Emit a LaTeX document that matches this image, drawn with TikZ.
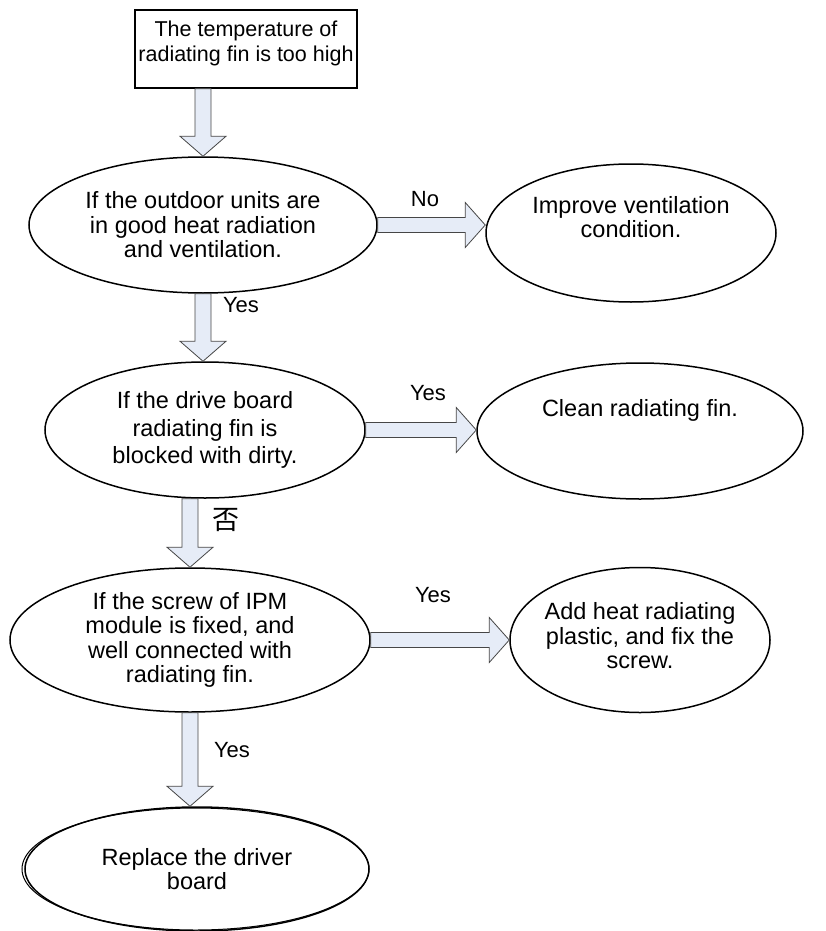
\documentclass[tikz,border=0pt]{standalone}
\usepackage{fontspec}
\setmainfont{Liberation Sans}
\newfontfamily\cjk{Noto Sans CJK SC}
\usetikzlibrary{calc,shapes.geometric}
\definecolor{ArrowFill}{RGB}{230,236,247}
\definecolor{ArrowLine}{RGB}{70,70,70}

% block arrow pointing down, from #1 to #2
\newcommand{\downblock}[2]{%
  \draw[blockarrow] let \p1=(#1), \p2=(#2) in
    (\x1-8pt,\y1) -- (\x1-8pt,\y2+20pt) -- (\x1-23pt,\y2+20pt) -- (\x1,\y2)
    -- (\x1+23pt,\y2+20pt) -- (\x1+8pt,\y2+20pt) -- (\x1+8pt,\y1) -- cycle;}
% block arrow pointing right, from #1 to #2
\newcommand{\rightblock}[2]{%
  \draw[blockarrow] let \p1=(#1), \p2=(#2) in
    (\x1,\y1+7.5pt) -- (\x2-20pt,\y1+7.5pt) -- (\x2-20pt,\y1+22.5pt) -- (\x2,\y1)
    -- (\x2-20pt,\y1-22.5pt) -- (\x2-20pt,\y1-7.5pt) -- (\x1,\y1-7.5pt) -- cycle;}

\begin{document}
\begin{tikzpicture}[
    x=1pt, y=-1pt,
    startbox/.style={draw, line width=1.5pt, rectangle, inner sep=0pt, minimum width=222pt, minimum height=78pt},
    decision/.style={draw, line width=1.5pt, ellipse, inner sep=0pt, align=center, font=\fontsize{23.5}{24.5}\selectfont},
    txt/.style={align=center, font=\fontsize{23.5}{24.5}\selectfont},
    lbl/.style={font=\fontsize{22}{24}\selectfont, inner sep=0pt},
    blockarrow/.style={fill=ArrowFill, draw=ArrowLine, line width=0.8pt, line join=miter}
  ]
    \useasboundingbox (0,0) rectangle (825,931);
    \node[startbox] (top) at (246,49) {};
    \node[txt, font=\fontsize{21.5}{25}\selectfont] (toptext) at (246,43) {The temperature of\\radiating fin is too high};

    \node[decision, minimum width=348pt, minimum height=136pt] (vent) at (203,225)
      {If the outdoor units are\\in good heat radiation\\and ventilation.};
    \node[decision, minimum width=290pt, minimum height=138pt] (improve) at (631,233) {};
    \node[txt] (improvetext) at (631,217) {Improve ventilation\\condition.};

    \node[decision, minimum width=320pt, minimum height=136pt, font=\fontsize{23.5}{27.5}\selectfont] (dirty) at (205,430)
      {If the drive board\\radiating fin is\\blocked with dirty.};
    \node[decision, minimum width=326pt, minimum height=136pt] (clean) at (640,431) {};
    \node[txt] (cleantext) at (640,410) {Clean radiating fin.};

    \node[decision, minimum width=360pt, minimum height=144pt] (screw) at (190,640)
      {If the screw of IPM\\module is fixed, and\\well connected with\\radiating fin.};
    \node[decision, minimum width=260pt, minimum height=145pt] (plastic) at (640,640) {};
    \node[txt] (plastictext) at (640,636) {Add heat radiating\\plastic, and fix the\\screw.};

    \node[decision, minimum width=344pt, minimum height=124pt] (replace) at (197,869)
      {Replace the driver\\board};
    \draw[line width=1pt] ($(replace.center)+(-1.5,0)$) ellipse [x radius=173.5, y radius=61];

    % connectors
    \downblock{vent.north |- top.south}{vent.north}
    \downblock{vent.south}{dirty.north}
    \downblock{screw.north |- dirty.south}{screw.north}
    \downblock{screw.south}{replace.north}
    \rightblock{vent.east}{improve.west}
    \rightblock{dirty.east}{clean.west}
    \rightblock{screw.east}{plastic.west}

    % branch labels
    \node[lbl] (no1) at (425,199) {No};
    \node[lbl] (yes1) at (241,305) {Yes};
    \node[lbl] (yes2) at (428,393) {Yes};
    \node[lbl, font=\fontsize{27}{28}\selectfont] (no2) at (226,520) {\cjk 否};
    \node[lbl] (yes3) at (433,595) {Yes};
    \node[lbl] (yes4) at (232,750) {Yes};
\end{tikzpicture}
\end{document}
